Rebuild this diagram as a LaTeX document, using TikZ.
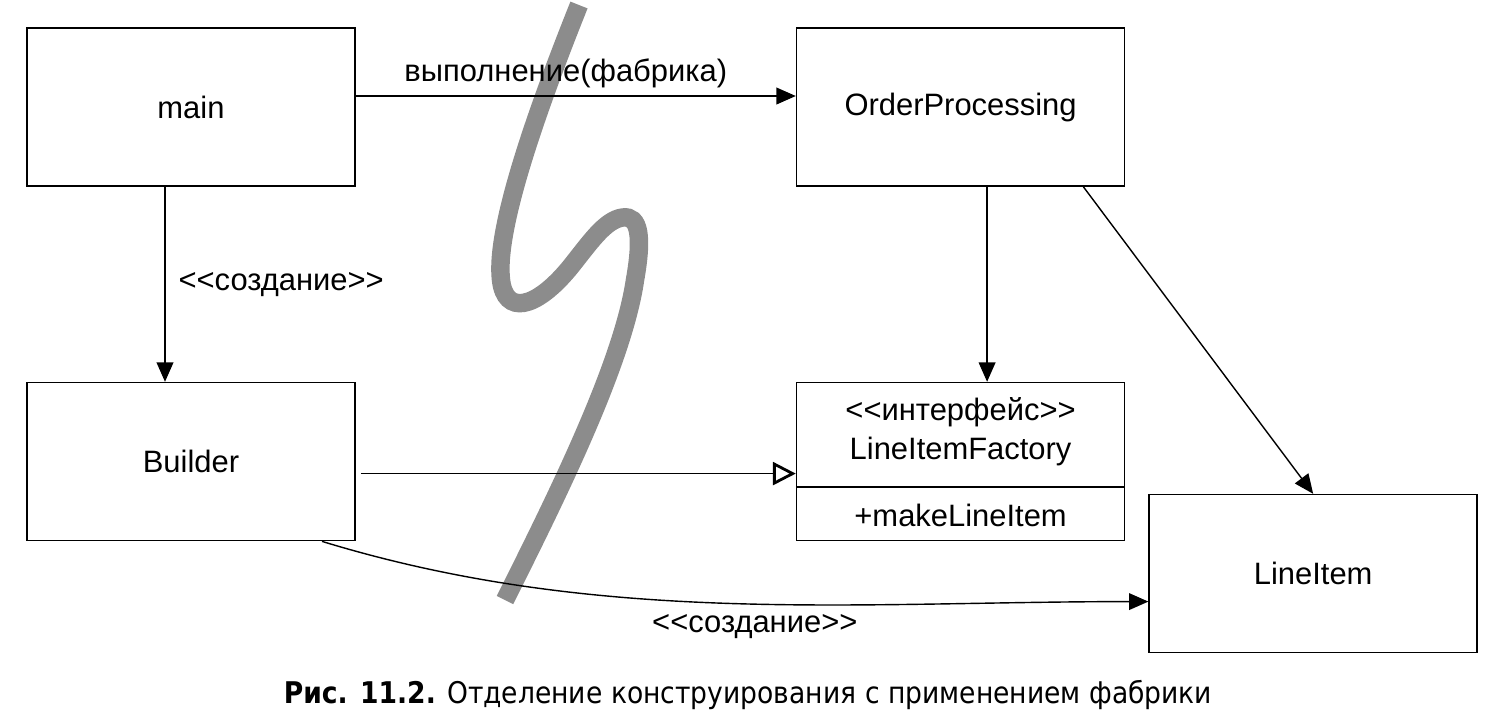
\documentclass[tikz,border=0pt]{standalone}
\usepackage{fontspec}
\setmainfont{Liberation Sans}
\newfontfamily\captionfont[FakeStretch=0.89]{DejaVu Sans}
\usepackage{tikz}
\usetikzlibrary{arrows.meta,positioning}

\begin{document}
\begin{tikzpicture}[
    node distance=1.5cm,
    every node/.style={font=\fontsize{17.6}{22}\selectfont},
    block/.style={
        rectangle,
        draw,
        line width=0.9pt,
        minimum width=6.56cm,
        minimum height=3.16cm
    },
    arrow/.style={-{Triangle[length=11pt,width=9.5pt]}, line width=0.8pt},
    realize/.style={-{Triangle[open,length=13pt,width=13pt,line width=1.6pt]}, line width=0.8pt},
    squiggle/.style={line width=10.5pt, color=black!45}
]
\useasboundingbox (0,0) rectangle (29.78,-14.54);

% Squiggle
\draw[squiggle] (11.58,-0.1)
    .. controls (10.7,-2.3) and (9.9,-4.6) .. (10.02,-5.6)
    .. controls (10.1,-6.3) and (10.7,-6.2) .. (11.4,-5.35)
    .. controls (11.8,-4.85) and (12.1,-4.4) .. (12.45,-4.35)
    .. controls (12.8,-4.3) and (12.85,-4.75) .. (12.7,-5.6)
    .. controls (12.45,-7.3) and (11.1,-10.0) .. (10.1,-12.0);

% Nodes
\node[block] (main) at (3.82,-2.14) {main};
\node[block, right=8.8cm of main] (order) {OrderProcessing};
\node[block, below=3.9cm of main] (builder) {Builder};
\node[block, below=3.9cm of order] (factory) {};
\node[block, right=0.46cm of factory, yshift=-2.24cm] (lineitem) {LineItem};

\coordinate (splitw) at ([yshift=-2.1cm]factory.north west);
\coordinate (splite) at ([yshift=-2.1cm]factory.north east);
\draw[line width=0.9pt] (splitw) -- (splite);
\node[align=center] (factoryname) at ([yshift=-1.0cm]factory.north)
{<{}<интерфейс>{}>\\LineItemFactory};
\node (factorymethod) at ([yshift=0.52cm]factory.south) {+makeLineItem};

\node (caption) at (14.96,-13.9)
{\captionfont\fontsize{17}{20}\selectfont\textbf{Рис. 11.2.} Отделение конструирования с применением фабрики};

% Arrows
\draw[arrow] ([yshift=0.22cm]main.east) --
    node[above, yshift=1pt, xshift=-0.2cm]{выполнение(фабрика)} ([yshift=0.22cm]order.west);
\draw[arrow] ([xshift=-0.52cm]main.south) --
    node[right, xshift=4pt]{<{}<создание>{}>} ([xshift=-0.52cm]builder.north);
\draw[arrow] ([xshift=0.53cm]order.south) -- ([xshift=0.53cm]factory.north);
\draw[arrow] ([xshift=-0.84cm]order.south east) -- (lineitem.north);
\draw[realize] ([xshift=0.1cm, yshift=-0.24cm]builder.east) -- ([yshift=-0.24cm]factory.west);
\draw[arrow] ([xshift=2.62cm]builder.south) to[out=-17, in=180, looseness=0.9]
    node[pos=0.53, below, yshift=-2pt]{<{}<создание>{}>} ([yshift=-0.56cm]lineitem.west);

\end{tikzpicture}
\end{document}
